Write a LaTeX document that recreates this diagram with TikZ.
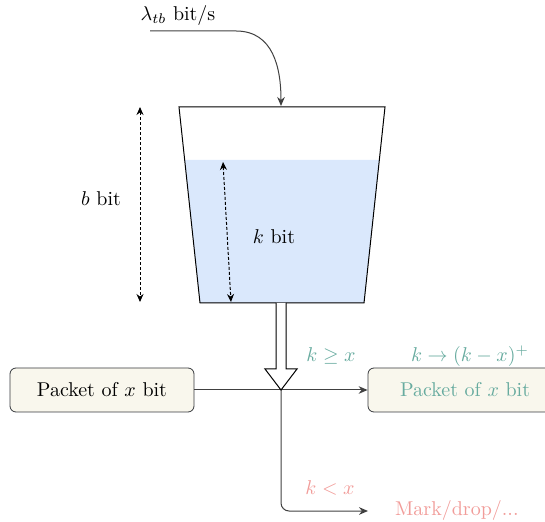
\documentclass[tikz,border=0pt]{standalone}
\usepackage{amsmath,amssymb}
\usetikzlibrary{arrows.meta,positioning,calc}
\definecolor{fillblue}{HTML}{DAE8FC}
\definecolor{okgreen}{HTML}{67AB9F}
\definecolor{droppink}{HTML}{F19C99}
\definecolor{boxfill}{HTML}{F9F7ED}
\definecolor{boxline}{HTML}{36393D}
\tikzset{
  packet/.style={draw=boxline, fill=boxfill, rounded corners=3pt, minimum width=92pt, minimum height=22pt, inner sep=2pt},
  flow/.style={draw=black!75, line width=0.5pt},
  measure/.style={dash pattern=on 1.5pt off 1pt, line width=0.5pt, {Stealth[length=4pt,width=3.5pt]}-{Stealth[length=4pt,width=3.5pt]}}
}

\begin{document}
\begin{tikzpicture}[x=0.5pt, y=-0.5pt, >={Stealth[length=4.5pt,width=3.8pt]}]
  \useasboundingbox (0,0) rectangle (545,522);
  \clip (0,0) rectangle (545,522);
  % Bucket
  \coordinate (tl) at (179,107);
  \coordinate (tr) at (385,107);
  \coordinate (bl) at (200,303);
  \coordinate (br) at (364,303);
  \fill[fillblue] ($(tl)!0.27!(bl)$) -- ($(tr)!0.27!(br)$) -- (br) -- (bl) -- cycle;
  \draw[line width=0.5pt] (tl) -- (bl) -- (br) -- (tr) -- cycle;
  % Token inflow
  \coordinate (src) at (150,31);
  \coordinate (inlet) at (281,106);
  \node (rate) at (178,16) {$\lambda_{tb}$ bit/s};
  \draw[flow, ->] (src) -- (236,31) to[out=0, in=90, looseness=1.1] (inlet);
  % Sizes
  \coordinate (btop) at (140,107);
  \coordinate (bbot) at (140,302);
  \draw[measure] (btop) -- (bbot);
  \node (bsize) at (101,199) {$b$ bit};
  \coordinate (ktop) at (223,162);
  \coordinate (kbot) at (231,302);
  \draw[measure] (ktop) -- (kbot);
  \node (ksize) at (274,237) {$k$ bit};
  % Packets
  \node[packet] (pktin) at (102,390) {Packet of $x$ bit};
  \node[packet, text=okgreen, text width=84pt, align=left, minimum width=110pt] (pktout) at (478,390) {\hspace{3pt}Packet of $x$ bit};
  \node[text=droppink, anchor=west] (drop) at (388,511) {Mark/drop/...};
  \coordinate (split) at (281,390);
  \draw[flow] (pktin.east) -- (split);
  \draw[flow, ->] (split) -- (pktout.west);
  \draw[flow, ->, rounded corners=4pt] (split) |- ($(drop.west)+(-20,0)$);
  % Outlet
  \coordinate (outlet) at (281,303);
  \draw[line width=0.5pt, fill=white] ($(outlet)+(-5,0)$) -- ($(outlet)+(-5,66)$) -- ($(outlet)+(-16,66)$)
    -- (split) -- ($(outlet)+(16,66)$) -- ($(outlet)+(5,66)$) -- ($(outlet)+(5,0)$);
  % Conditions
  \node[text=okgreen] (cond1) at (331,356) {$k \geq x$};
  \node[text=okgreen] (update) at (470,356) {$k \rightarrow (k-x)^{+}$};
  \node[text=droppink] (cond2) at (330,488) {$k < x$};
\end{tikzpicture}
\end{document}
